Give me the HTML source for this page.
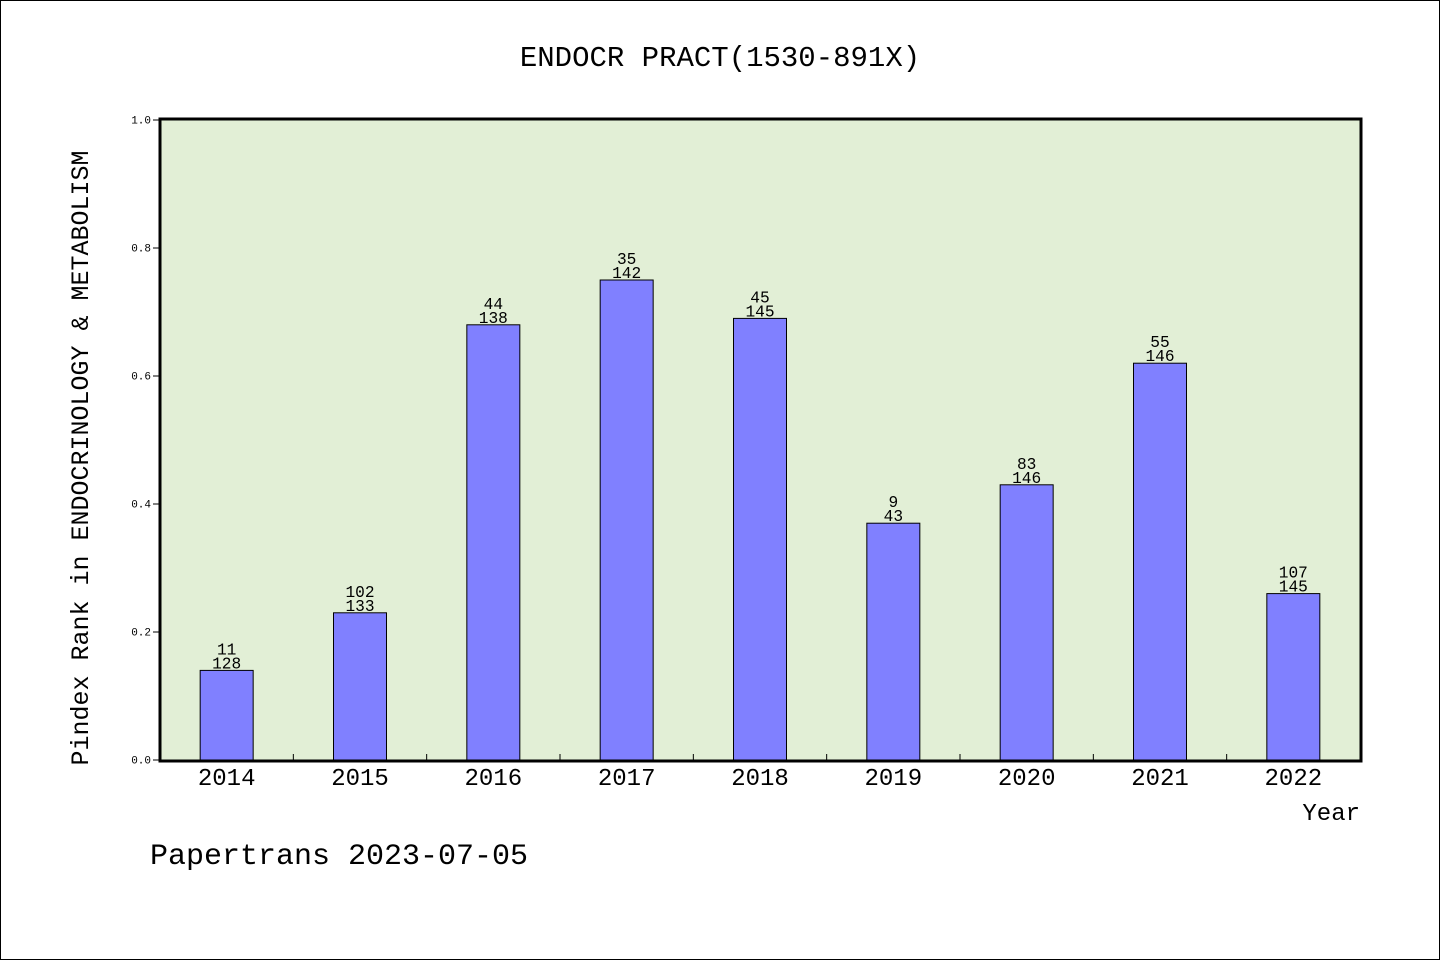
<!DOCTYPE html>
<html><head><meta charset="utf-8"><style>
html,body{margin:0;padding:0;background:#fff}
svg{display:block}
text{font-family:"Liberation Mono","WenQuanYi Zen Hei",monospace;fill:#000}
</style></head><body>
<svg id="chart" width="1440" height="960" viewBox="0 0 1440 960">
<rect x="0.5" y="0.5" width="1439" height="959" fill="#fff" stroke="#000"/>
<text x="720" y="66" font-size="29" text-anchor="middle">ENDOCR PRACT(1530-891X)</text>
<rect x="160" y="119" width="1201" height="642" fill="#e2efd6"/>
<g id="bars"></g>
<g id="labels"></g>
<g id="xticks"></g>
<g id="yticks"></g>
<rect x="160" y="119" width="1201" height="642" fill="none" stroke="#000" stroke-width="3"/>
<text transform="translate(88,458) rotate(-90)" font-size="25" text-anchor="middle">Pindex Rank in ENDOCRINOLOGY &amp; METABOLISM</text>
<text x="1360" y="820" font-size="24" text-anchor="end">Year</text>
<text x="150" y="864" font-size="30">Papertrans 2023-07-05</text>
</svg>
<script>
const years = ['2014','2015','2016','2017','2018','2019','2020','2021','2022'];
const values = [0.14,0.23,0.68,0.75,0.69,0.37,0.43,0.62,0.26];
const ranks = ['11','102','44','35','45','9','83','55','107'];
const totals = ['128','133','138','142','145','43','146','146','145'];
const yTicks = [0,0.2,0.4,0.6,0.8,1.0];
const yTickLabels = ['0.0','0.2','0.4','0.6','0.8','1.0'];

const NS='http://www.w3.org/2000/svg';
const X0=160,W=1200,Y0=760,H=640;
const step=W/years.length;
function xs(i){return X0+step*(i+0.5);}
function ys(v){return Y0-v*H;}
function mk(tag,attrs,parent){const e=document.createElementNS(NS,tag);for(const k in attrs)e.setAttribute(k,attrs[k]);document.getElementById(parent).appendChild(e);return e;}

years.forEach((y,i)=>{
  const bw=53,cx=xs(i),top=ys(values[i]);
  const r=mk('rect',{x:cx-bw/2,y:top,width:bw,height:Y0-top,fill:'#8080ff',stroke:'#000','stroke-width':1},'bars');
  
  
  const t1=mk('text',{x:cx,y:top-16,'font-size':17,'text-anchor':'middle',textLength:9.7*ranks[i].length,lengthAdjust:'spacingAndGlyphs'},'labels');
  t1.textContent=ranks[i];
  
  
  const t2=mk('text',{x:cx,y:top-2,'font-size':17,'text-anchor':'middle',textLength:9.7*totals[i].length,lengthAdjust:'spacingAndGlyphs'},'labels');
  t2.textContent=totals[i];
  
  
  const xl=mk('text',{x:cx,y:785,'font-size':24,'text-anchor':'middle'},'xticks');
  xl.textContent=y;
  
  
  if(i>0){
    const tk=mk('line',{x1:X0+step*i,x2:X0+step*i,y1:Y0,y2:Y0-6,stroke:'#000','stroke-width':1},'xticks');
    
    
  }
});
yTicks.forEach((v,i)=>{
  const y=ys(v);
  const tk=mk('line',{x1:153,x2:160,y1:y,y2:y,stroke:'#000','stroke-width':1},'yticks');
  
  
  const t=mk('text',{x:151,y:y+3.5,'font-size':11,'text-anchor':'end'},'yticks');
  t.textContent=yTickLabels[i];
  
  
});
</script>
</body></html>
